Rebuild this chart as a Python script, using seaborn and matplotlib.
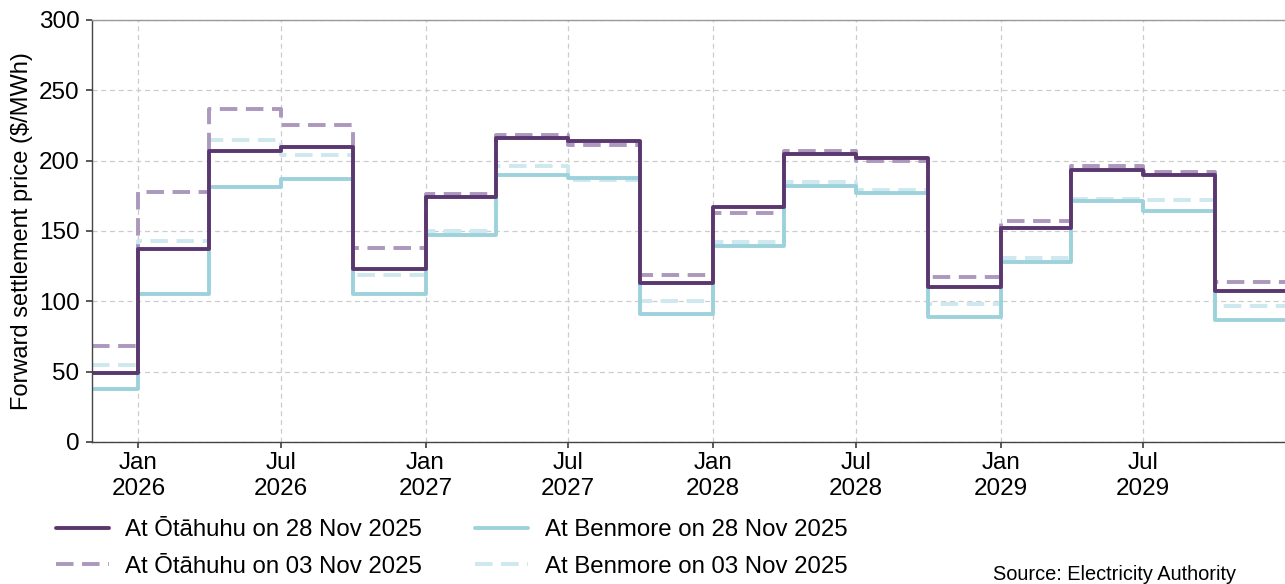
import pandas as pd
import seaborn as sns
import matplotlib.pyplot as plt
import matplotlib.dates as mdates

# quarter start dates (Q4 2025 .. Q4 2029) plus end of last quarter
quarters = pd.date_range("2025-10-01", "2030-01-01", freq="QS")

ota_28nov = [49, 137, 207, 210, 123, 174, 216, 214, 113, 167, 205, 202, 110, 152, 193, 190, 107]
ota_03nov = [68, 178, 237, 225, 138, 176, 218, 211, 119, 163, 207, 200, 117, 157, 196, 192, 114]
ben_28nov = [38, 105, 181, 187, 105, 147, 190, 188, 91, 139, 182, 177, 89, 128, 171, 164, 87]
ben_03nov = [55, 143, 215, 204, 119, 150, 196, 186, 100, 142, 185, 179, 98, 131, 173, 172, 97]

series = {
    "At Ōtāhuhu on 28 Nov 2025": ota_28nov,
    "At Ōtāhuhu on 03 Nov 2025": ota_03nov,
    "At Benmore on 28 Nov 2025": ben_28nov,
    "At Benmore on 03 Nov 2025": ben_03nov,
}

rows = []
for name, vals in series.items():
    vals = vals + [vals[-1]]  # hold last quarter to its end
    for d, v in zip(quarters, vals):
        rows.append({"date": d, "price": v, "series": name})
df = pd.DataFrame(rows)

sns.set_theme(style="ticks")
plt.rcParams["font.family"] = ["Liberation Sans", "DejaVu Sans"]
plt.rcParams["text.color"] = "black"
plt.rcParams["axes.labelcolor"] = "black"
plt.rcParams["xtick.color"] = "black"
plt.rcParams["ytick.color"] = "black"

colors = {
    "At Ōtāhuhu on 28 Nov 2025": "#5b376f",
    "At Ōtāhuhu on 03 Nov 2025": "#ac97bd",
    "At Benmore on 28 Nov 2025": "#9dd2dc",
    "At Benmore on 03 Nov 2025": "#cde8ee",
}
dashes = {
    "At Ōtāhuhu on 28 Nov 2025": "",
    "At Ōtāhuhu on 03 Nov 2025": (4.5, 2.2),
    "At Benmore on 28 Nov 2025": "",
    "At Benmore on 03 Nov 2025": (4.5, 2.2),
}

fig = plt.figure(figsize=(12.85, 5.84), dpi=100)
ax = fig.add_axes([0.0716, 0.2432, 0.93, 0.7226])

# draw lighter/older lines first so the 28 Nov lines sit on top
for name in ["At Benmore on 03 Nov 2025", "At Ōtāhuhu on 03 Nov 2025",
             "At Benmore on 28 Nov 2025", "At Ōtāhuhu on 28 Nov 2025"]:
    sub = df[df["series"] == name]
    sns.lineplot(data=sub, x="date", y="price", ax=ax, color=colors[name],
                 linewidth=2.8, drawstyle="steps-post", label=name,
                 dashes=False, estimator=None, legend=False)
    if dashes[name]:
        ax.lines[-1].set_dashes(dashes[name])

ax.set_xlim(pd.Timestamp("2025-11-03"), pd.Timestamp("2029-12-31"))
ax.set_ylim(0, 300)
ax.set_yticks(range(0, 301, 50))
ax.xaxis.set_major_locator(mdates.MonthLocator(bymonth=[1, 7]))
ax.xaxis.set_major_formatter(mdates.DateFormatter("%b\n%Y"))
ax.tick_params(labelsize=17.5, length=4, color="#444444")
ax.tick_params(axis="y", pad=5)
for lbl in ax.get_xticklabels():
    lbl.set_horizontalalignment("center")

ax.grid(True, linestyle=(0, (4, 3)), color="#cccccc", linewidth=0.9)
for s in ["left", "bottom", "top"]:
    ax.spines[s].set_color("#444444")
    ax.spines[s].set_linewidth(1)
ax.spines["top"].set_color("#999999")
ax.spines["right"].set_visible(False)

ax.set_xlabel("")
ax.set_ylabel("Forward settlement price ($/MWh)", fontsize=17, labelpad=4)

order = ["At Ōtāhuhu on 28 Nov 2025", "At Ōtāhuhu on 03 Nov 2025",
         "At Benmore on 28 Nov 2025", "At Benmore on 03 Nov 2025"]
hmap = {ln.get_label(): ln for ln in ax.lines if ln.get_label() in order}
fig.legend([hmap[o] for o in order], order, ncol=2, frameon=False,
           fontsize=17.3, loc="center left", bbox_to_anchor=(0.0265, 0.061),
           handlelength=2.2, handletextpad=0.7, columnspacing=2.2,
           labelspacing=0.6)

fig.text(0.962, 0.0, "Source: Electricity Authority", ha="right", va="bottom",
         fontsize=14.4)

fig.savefig("out.png", dpi=100)
